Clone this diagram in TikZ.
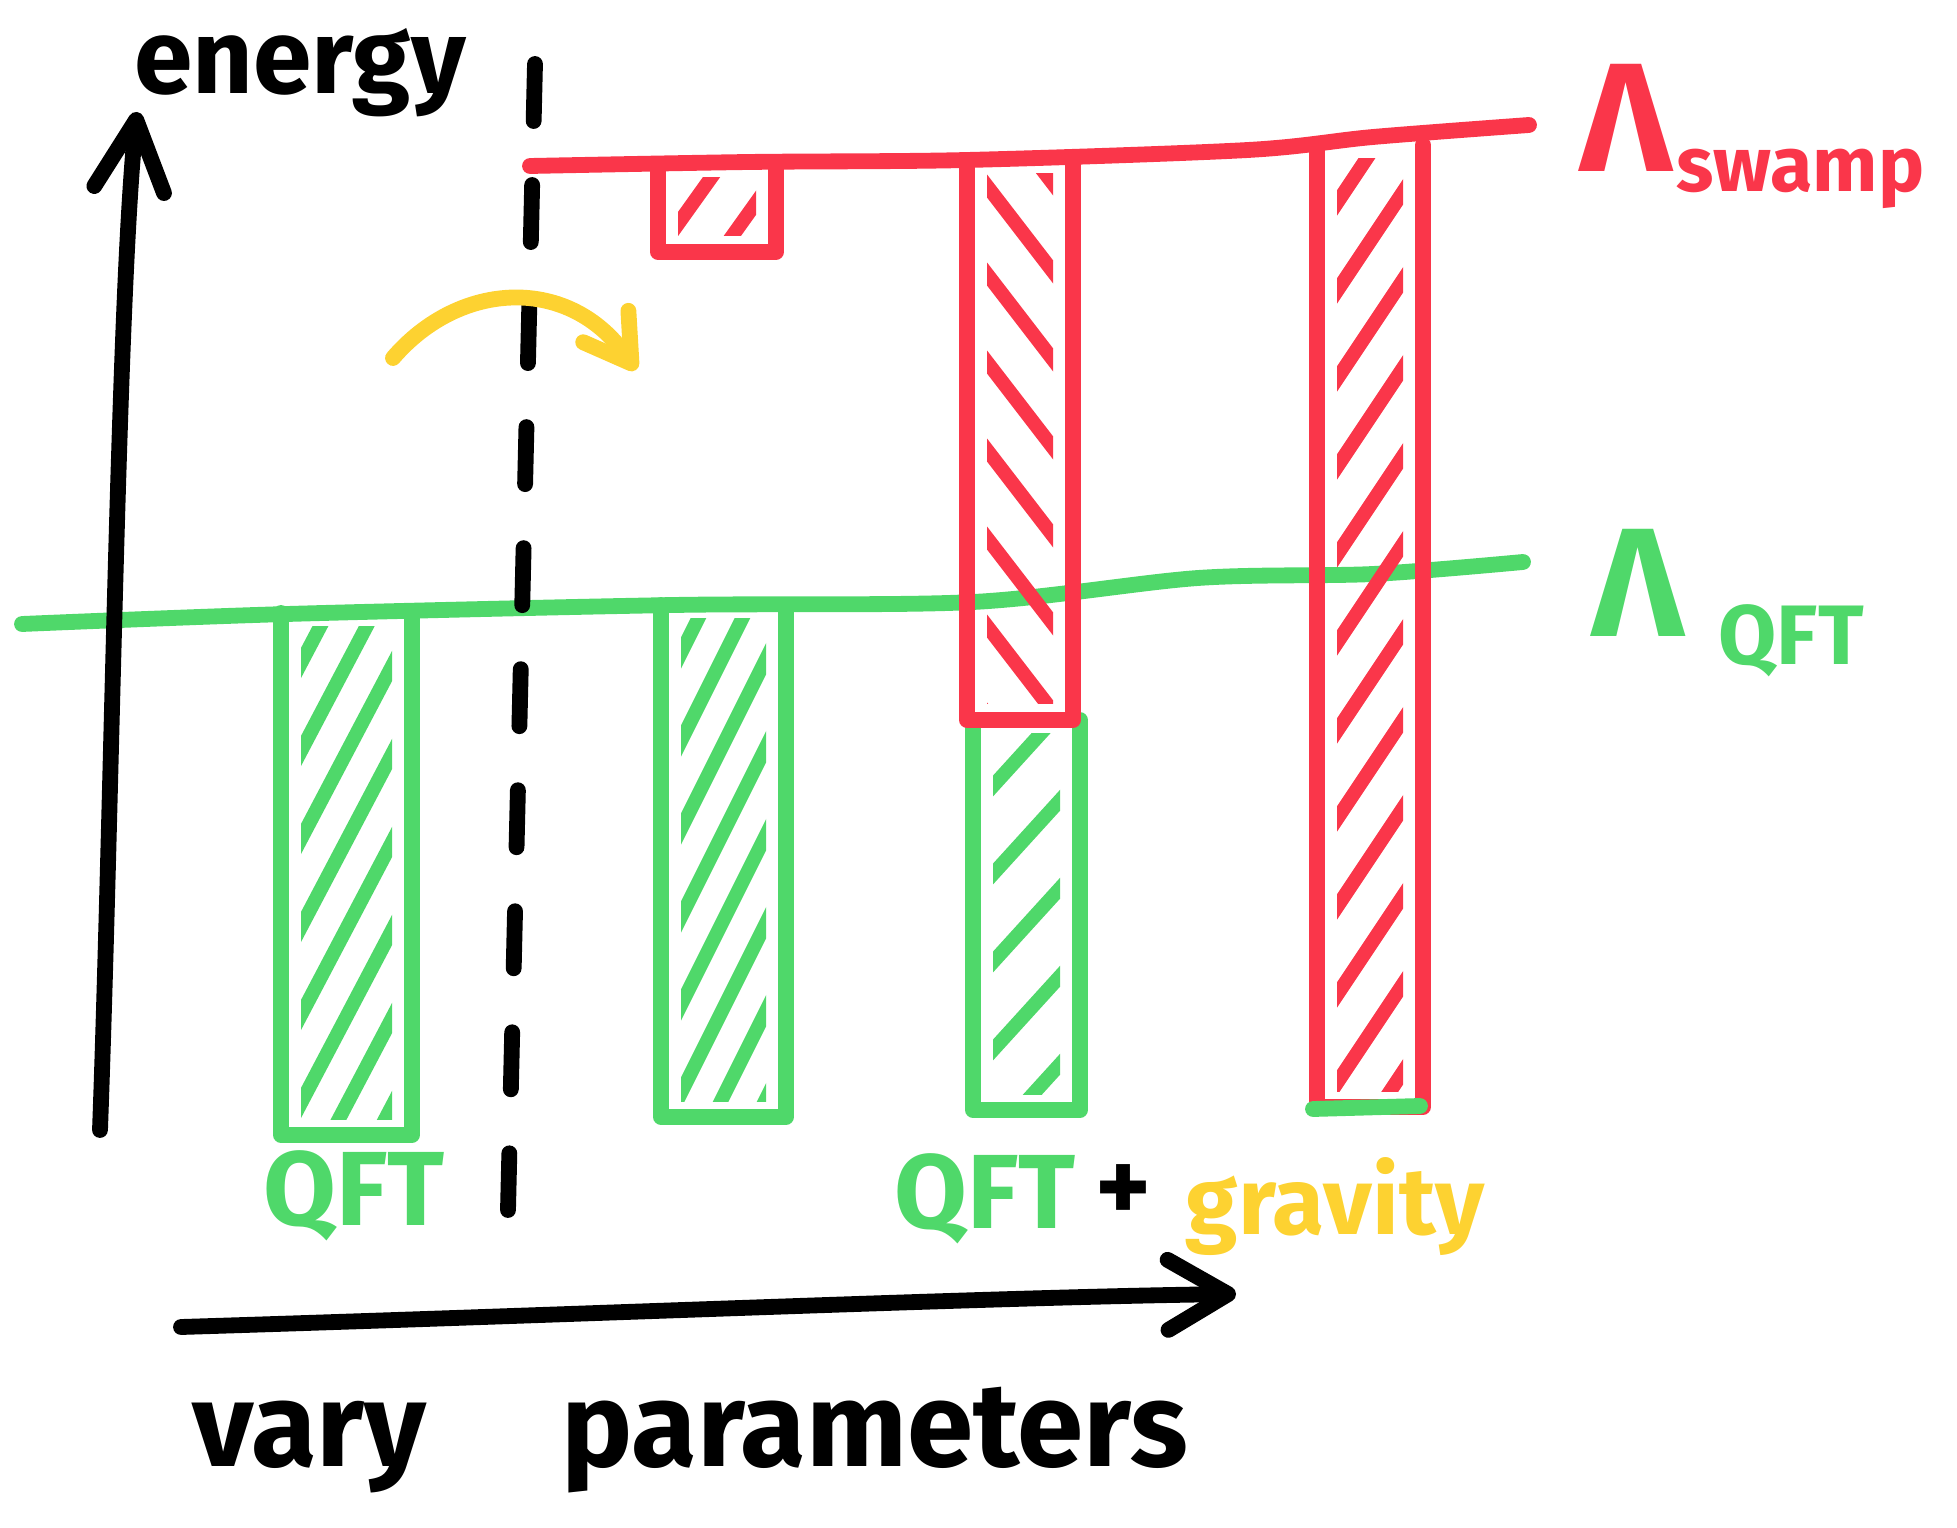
\documentclass[tikz,border=0pt]{standalone}
\usepackage{fontspec}
\setmainfont{Fira Sans}
\usetikzlibrary{arrows.meta,positioning,calc}
\definecolor{swampred}{RGB}{250, 54, 74}
\definecolor{qftgreen}{RGB}{79, 216, 106}
\definecolor{gravyellow}{RGB}{253, 210, 49}

\begin{document}
\begin{tikzpicture}[x=0.01cm, y=-0.01cm, >=Stealth,
		pen/.style={line width=4.5pt, line cap=round, line join=round},
		hatchline/.style={line width=4pt, line cap=round},
		dashpen/.style={pen, dash pattern=on 0.57cm off 0.64cm},
		barb/.style={-{Straight Barb[round, length=6mm, width=7mm]}},
		handtext/.style={inner sep=0pt, font=\fontsize{30}{36}\selectfont\bfseries},
		lambdatext/.style={inner sep=0pt, font=\fontsize{44}{52}\selectfont\bfseries},
		subtext/.style={inner sep=0pt, font=\fontsize{24}{30}\selectfont\bfseries}
		]
	\useasboundingbox (0,0) rectangle (1957,1528);
	
	% scale lines
	\draw [pen, qftgreen] plot[smooth] coordinates {(22,624) (287,614) (674,605) (973,602) (1198,578) (1373,574) (1523,562)};
	\draw [pen, swampred] plot[smooth] coordinates {(530,166) (749,162) (967,160) (1248,150) (1373,137) (1529,125)};
	
	\coordinate (dtop) at (535,64);
	\coordinate (dbot) at (508,1210);
	\draw [dashpen] (dtop) -- (dbot);
	
	% bars: left/top/right/bottom/colour/slope
	\foreach \xa/\ya/\xb/\yb/\col/\sl in {281/613/412/1135/qftgreen/-1.9, 661/605/786/1117/qftgreen/-2.0, 973/720/1080/1110/qftgreen/-1.1, 658/164/776/252/swampred/-1.4, 967/160/1073/720/swampred/1.3, 1317/145/1423/1107/swampred/-1.5}
	{
		\draw [pen, draw=\col] (\xa,\ya) -- (\xa,\yb) -- (\xb,\yb) -- (\xb,\ya);
		\begin{scope}
			\clip (\xa+20,\ya+14) rectangle (\xb-20,\yb-16);
			\foreach \k in {-4,...,14}
				\draw [hatchline, draw=\col] (\xa,{\ya+\k*88}) -- ++(\xb-\xa,{\sl*(\xb-\xa)});
		\end{scope}
	}
	\draw [pen, qftgreen] (1313,1109) -- (1420,1106);
	
	% the step across
	\coordinate (ystart) at (393,358);
	\coordinate (yend) at (636,370);
	\draw [pen, gravyellow, -{Straight Barb[round, length=4.5mm, width=5.5mm]}] (ystart) .. controls (460,280) and (570,275) .. (yend);
	
	% axes
	\coordinate (ebot) at (100,1130);
	\coordinate (etop) at (137,112);
	\draw [pen, -{Straight Barb[round, length=7mm, width=7mm]}] (ebot) .. controls (112,800) and (118,300) .. (etop);
	\coordinate (pstart) at (181,1327);
	\coordinate (pend) at (1236,1294);
	\draw [pen, barb] (pstart) .. controls (600,1314) and (1000,1297) .. (pend);
	
	\node [handtext, anchor=base] (energy) at (300,94) {energy};
	\node [handtext, anchor=base, font=\fontsize{34}{40}\selectfont\bfseries] (vary) at (690,1466) {vary\hspace{1.35cm}parameters};
	
	\node [lambdatext, swampred, anchor=base] (lamswamp) at (1626,172) {Λ};
	\node [subtext, swampred, anchor=base west, font=\fontsize{22}{26}\selectfont\bfseries] (swamp) at (1676,192) {swamp};
	\node [lambdatext, qftgreen, anchor=base] (lamqft) at (1638,637) {Λ};
	\node [subtext, qftgreen, anchor=base west] (qft) at (1718,665) {QFT};
	
	\node [handtext, qftgreen, anchor=base] (qftA) at (354,1225) {QFT};
	\node [handtext, qftgreen, anchor=base] (qftB) at (985,1228) {QFT};
	\node [handtext, anchor=base] (plus) at (1123,1222) {+};
	\node [handtext, gravyellow, anchor=base, font=\fontsize{27}{32}\selectfont\bfseries] (gravity) at (1335,1234) {gravity};
\end{tikzpicture}
\end{document}
